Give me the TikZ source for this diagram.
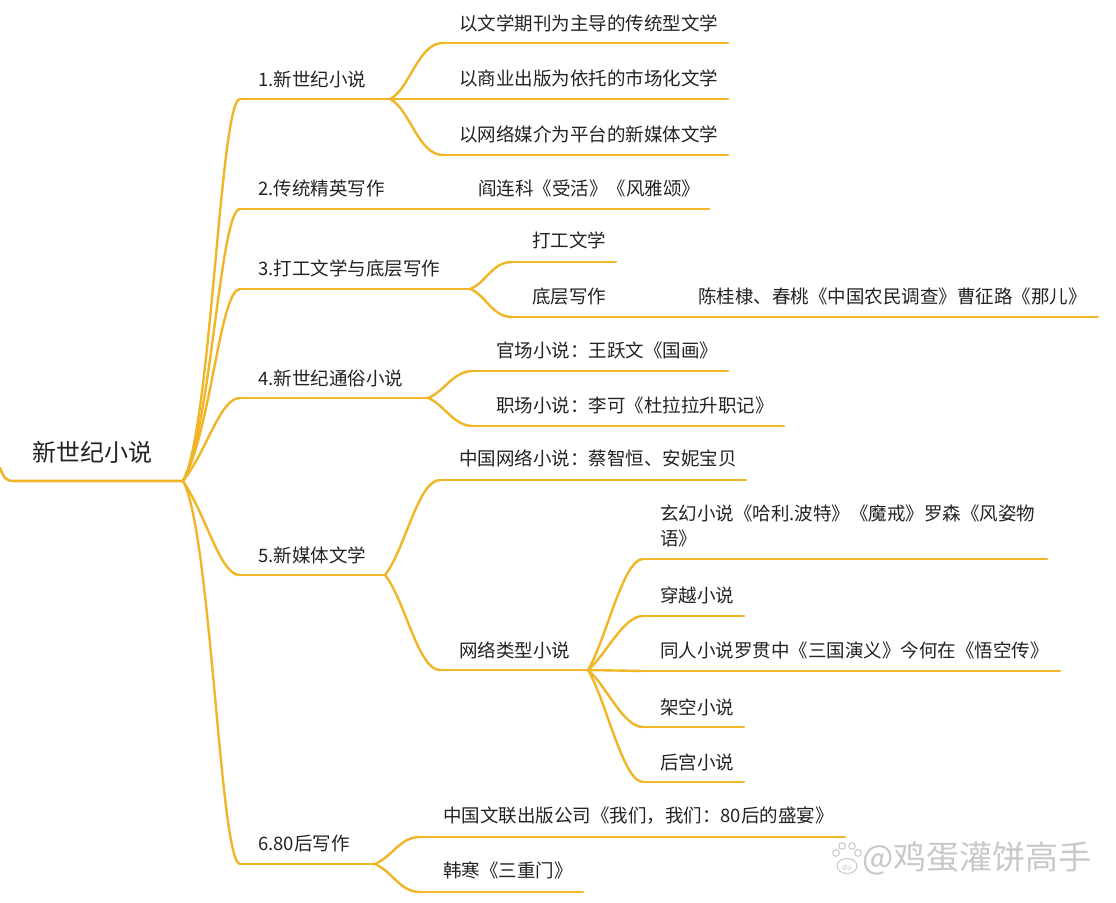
\documentclass[tikz,border=0pt]{standalone}
\usepackage{fontspec}
\setmainfont{Noto Sans CJK SC}
\definecolor{branch}{RGB}{240,182,40}
\definecolor{ink}{RGB}{35,35,35}
\definecolor{wm}{RGB}{200,200,200}
\tikzset{
  lbl/.style={anchor=base west,inner sep=0pt,text=ink,font=\fontsize{18.5}{25}\selectfont},
  rootlbl/.style={anchor=base west,inner sep=0pt,text=ink,font=\fontsize{24}{28}\selectfont},
  uline/.style={draw=branch,line width=2.6pt,line cap=round},
  link/.style={draw=branch,line width=2.4pt,line cap=round},
}
% \topic{name}{text x}{baseline y}{line left x}{line right x}{line y}{text}
\newcommand\topic[7]{%
  \node[lbl] (#1) at (#2,#3) {#7};
  \coordinate (#1L) at (#4,#6);
  \coordinate (#1R) at (#5,#6);
  \draw[uline] (#1L) -- (#1R);}
% \conn{from}{to}{dx1}{dy1}{dx2}
\newcommand\conn[5]{\draw[link] (#1) .. controls +(#3,#4) and +(-#5,0) .. (#2);}
\begin{document}
\begin{tikzpicture}[x=1pt,y=-1pt]
\useasboundingbox (0,0) rectangle (1116,902);
\fill[white] (0,0) rectangle (1116,902);

% root
\node[rootlbl] (root) at (32,461) {新世纪小说};
\coordinate (rootL) at (0,468);
\coordinate (hub0) at (183,481);
\draw[uline] (rootL) .. controls (4,478) and (6,481) .. (14,481) -- (hub0);

% level 1
\topic{b1}{258}{86}{240}{390}{99}{1.新世纪小说}
\topic{b2}{258}{195}{240}{400}{209}{2.传统精英写作}
\topic{b3}{258}{275}{240}{470}{289}{3.打工文学与底层写作}
\topic{b4}{258}{385}{240}{428}{398}{4.新世纪通俗小说}
\topic{b5}{258}{562}{240}{385}{575}{5.新媒体文学}
\topic{b6}{258}{850}{240}{375}{864}{6.80后写作}

\conn{hub0}{b1L}{28}{-50}{20}
\conn{hub0}{b2L}{28}{-50}{20}
\conn{hub0}{b3L}{28}{-50}{20}
\conn{hub0}{b4L}{25}{-32}{20}
\conn{hub0}{b5L}{25}{38}{20}
\conn{hub0}{b6L}{28}{50}{20}

% branch 1
\topic{c11}{459}{30}{443}{728}{43}{以文学期刊为主导的传统型文学}
\topic{c12}{459}{85}{443}{728}{99}{以商业出版为依托的市场化文学}
\topic{c13}{459}{141}{443}{728}{155}{以网络媒介为平台的新媒体文学}
\conn{b1R}{c11L}{20}{-10}{25}
\draw[link] (b1R) -- (c12L);
\conn{b1R}{c13L}{20}{10}{25}

% branch 2
\topic{c21}{478}{195}{430}{709}{209}{阎连科《受活》《风雅颂》}
\draw[link] (b2R) -- (c21L);

% branch 3
\topic{c31}{532}{247}{512}{616}{262}{打工文学}
\topic{c32}{532}{303}{512}{670}{317}{底层写作}
\topic{c321}{698}{303}{690}{1098}{317}{陈桂棣、春桃《中国农民调查》曹征路《那儿》}
\conn{b3R}{c31L}{16}{-6}{20}
\conn{b3R}{c32L}{16}{6}{20}
\draw[link] (c32R) -- (c321L);

% branch 4
\topic{c41}{496}{357}{473}{728}{371}{官场小说：王跃文《国画》}
\topic{c42}{496}{412}{473}{784}{426}{职场小说：李可《杜拉拉升职记》}
\conn{b4R}{c41L}{16}{-6}{20}
\conn{b4R}{c42L}{16}{6}{20}

% branch 5
\topic{c51}{459}{465}{440}{746}{480}{中国网络小说：蔡智恒、安妮宝贝}
\topic{c52}{459}{657}{440}{588}{670}{网络类型小说}
\conn{b5R}{c51L}{20}{-25}{22}
\conn{b5R}{c52L}{20}{25}{22}

\node[lbl,align=left,anchor=north west,text width=390pt] (g1) at (660,505)
  {玄幻小说《哈利.波特》《魔戒》罗森《风姿物\\语》};
\coordinate (g1L) at (643,559); \coordinate (g1R) at (1047,559);
\draw[uline] (g1L) -- (g1R);
\topic{g2}{660}{602}{643}{744}{616}{穿越小说}
\topic{g3}{660}{657}{643}{1060}{671}{同人小说罗贯中《三国演义》今何在《悟空传》}
\topic{g4}{660}{714}{643}{744}{727}{架空小说}
\topic{g5}{660}{769}{643}{744}{782}{后宫小说}
\conn{c52R}{g1L}{18}{-30}{20}
\conn{c52R}{g2L}{18}{-15}{20}
\draw[link] (c52R) -- (g3L);
\conn{c52R}{g4L}{18}{15}{20}
\conn{c52R}{g5L}{18}{30}{20}

% branch 6
\topic{c61}{443}{822}{420}{845}{837}{中国文联出版公司《我们，我们：80后的盛宴》}
\topic{c62}{443}{877}{420}{583}{892}{韩寒《三重门》}
\conn{b6R}{c61L}{18}{-8}{20}
\conn{b6R}{c62L}{18}{8}{20}

% watermark
\begin{scope}[draw=wm,line width=1pt]
  \draw (836,853) circle (3.3);
  \draw (842,846) circle (3.3);
  \draw (852,846) circle (3.3);
  \draw (858,853) circle (3.3);
  \draw (847,866) ellipse (10 and 7.5);
\end{scope}
\node[inner sep=0pt,text=wm,font=\fontsize{8}{8}\selectfont] (wmdu) at (847,867) {du};
\node[anchor=west,inner sep=0pt,text=wm,font=\fontsize{33}{36}\selectfont] (wmtext) at (862,858) {@鸡蛋灌饼高手};
\end{tikzpicture}
\end{document}
